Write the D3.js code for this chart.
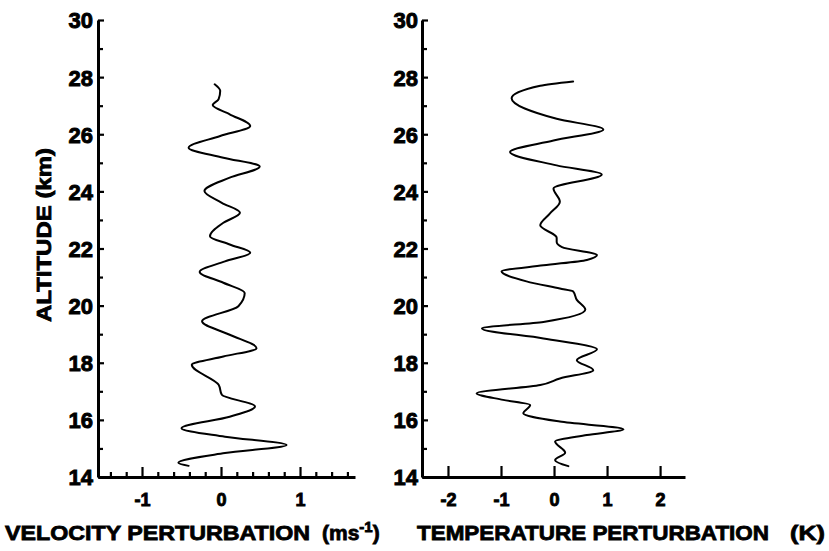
<!DOCTYPE html>
<html><head><meta charset="utf-8">
<script src="https://cdn.jsdelivr.net/npm/d3@7"></script>
<style>
body{margin:0;background:#fff;}
svg{display:block;}
text{font-family:"Liberation Sans",Arial,sans-serif;font-weight:bold;fill:#000;}
</style></head>
<body><svg id="c" width="829" height="551"></svg>
<script>
// Velocity perturbation profile (m/s) vs altitude (km)
const velAlt = [14.39,14.50,14.84,15.12,15.41,15.71,16.11,16.47,16.88,17.23,17.93,18.22,18.51,18.98,19.45,19.98,20.44,20.80,21.18,21.55,21.85,22.14,22.43,22.90,23.25,23.60,24.01,24.48,24.87,25.18,25.53,25.94,26.29,26.70,27.02,27.23,27.52,27.75];
const velVal = [-0.41,-0.54,0.05,0.83,0.05,-0.50,0.11,0.43,0.01,-0.03,-0.37,0.03,0.45,0.11,-0.24,0.22,0.30,0.03,-0.27,0.05,0.37,0.11,-0.14,0.03,0.24,0.01,-0.21,0.11,0.49,0.03,-0.41,-0.01,0.37,0.11,-0.105,-0.03,-0.01,-0.08];
// Temperature perturbation profile (K) vs altitude (km)
const tmpAlt = [14.38,14.59,14.85,15.24,15.47,15.67,15.94,16.23,16.52,16.70,16.93,17.22,17.45,17.74,18.09,18.47,18.85,19.20,19.43,19.86,20.20,20.50,20.60,20.85,21.20,21.41,21.60,21.77,22.05,22.23,22.38,22.81,23.22,23.64,24.10,24.59,24.91,25.38,25.78,26.17,26.54,27.26,27.70,27.85];
const tmpVal = [0.27,0.02,0.21,0.02,0.62,1.31,0.11,-0.58,-0.45,-0.96,-1.46,-0.26,0.11,0.74,0.43,0.81,-0.20,-1.36,-0.20,0.59,0.43,0.36,0.11,-0.52,-0.99,-0.20,0.62,0.81,0.15,0.05,0.05,-0.26,-0.08,0.11,-0.01,0.90,0.05,-0.83,-0.01,0.93,0.05,-0.80,-0.26,0.36];
// Tick values / labels
const altMajor = [14,16,18,20,22,24,26,28,30];
const altMinor = [15,17,19,21,23,25,27,29];
const velMajor = [-1,0,1];
const velMinor = [-1.4,-1.2,-0.8,-0.6,-0.4,-0.2,0.2,0.4,0.6,0.8,1.2,1.4,1.6];
const tmpMajor = [-2,-1,0,1,2];
const velTitle = "VELOCITY PERTURBATION";
const velUnit = "(ms";
const tmpTitle = "TEMPERATURE PERTURBATION";
const tmpUnit = "(K)";
const yTitle = "ALTITUDE  (km)";

const svg = d3.select("#c");
const y = d3.scaleLinear().domain([14,30]).range([477,20]);
const xL = d3.scaleLinear().domain([-1.557,1.696]).range([98,355]);
const xR = d3.scaleLinear().domain([-2.49,2.47]).range([422,685]);

function styleAxis(g, fs){
  g.selectAll("path.domain").attr("stroke","#000").attr("stroke-width",3);
  g.selectAll(".tick line").attr("stroke","#000").attr("stroke-width",2.2);
  g.selectAll(".tick text").style("font-size",fs+"px").style("font-family","'Liberation Sans',Arial,sans-serif")
    .style("font-weight","bold").attr("stroke","#000").attr("stroke-width",0.9).attr("fill","#000");
}

function panel(x, ax, majorX, minorX, alt, val, yPad, majLen){
  // y axis
  const gy = svg.append("g").attr("transform",`translate(${ax},0)`)
    .call(d3.axisLeft(y).tickValues(altMajor).tickSizeInner(-6).tickSizeOuter(0).tickPadding(yPad).tickFormat(d3.format("d")));
  styleAxis(gy, 22);
  gy.selectAll(".tick text").attr("dy","0.36em");
  const gy2 = svg.append("g").attr("transform",`translate(${ax},0)`)
    .call(d3.axisLeft(y).tickValues(altMinor).tickSizeInner(-5).tickSizeOuter(0).tickFormat(""));
  gy2.select("path.domain").remove();
  styleAxis(gy2, 22);
  // x axis
  const gx = svg.append("g").attr("transform",`translate(0,${y(14)})`)
    .call(d3.axisBottom(x).tickValues(majorX).tickSizeInner(-majLen).tickSizeOuter(0).tickPadding(16).tickFormat(d3.format("d")));
  styleAxis(gx, 18);
  gx.selectAll(".tick text").text(d=>d<0?"-"+Math.abs(d):d);
  if(minorX.length){
    const gx2 = svg.append("g").attr("transform",`translate(0,${y(14)})`)
      .call(d3.axisBottom(x).tickValues(minorX).tickSizeInner(-5).tickSizeOuter(0).tickFormat(""));
    gx2.select("path.domain").remove();
    styleAxis(gx2, 18);
  }
  // curve
  const pts = alt.map((a,i)=>[x(val[i]), y(a)]);
  svg.append("path").datum(pts)
    .attr("fill","none").attr("stroke","#000").attr("stroke-width",2)
    .attr("stroke-linejoin","round").attr("stroke-linecap","round")
    .attr("d", d3.line().curve(d3.curveMonotoneY)(pts));
}

panel(xL, 98, velMajor, velMinor, velAlt, velVal, 5, 10);
panel(xR, 422, tmpMajor, [], tmpAlt, tmpVal, 4, 11);

// Titles
function heavy(t){ return t.attr("stroke","#000").attr("stroke-width",0.8); }
heavy(svg.append("text").attr("x",5).attr("y",540).style("font-size","21px")
  .attr("textLength",305).attr("lengthAdjust","spacingAndGlyphs").text(velTitle));
const u = heavy(svg.append("text").attr("x",322).attr("y",540).style("font-size","21px"));
u.append("tspan").text(velUnit);
u.append("tspan").attr("dy",-8).style("font-size","15px").text("-1");
u.append("tspan").attr("dy",8).text(")");
heavy(svg.append("text").attr("x",417).attr("y",540).style("font-size","21px")
  .attr("textLength",352).attr("lengthAdjust","spacingAndGlyphs").text(tmpTitle));
heavy(svg.append("text").attr("x",790).attr("y",540).style("font-size","21px")
  .attr("textLength",35).attr("lengthAdjust","spacingAndGlyphs").text(tmpUnit));
heavy(svg.append("text").attr("transform","translate(51,235) rotate(-90)")
  .attr("text-anchor","middle").style("font-size","20px")
  .attr("textLength",174).attr("lengthAdjust","spacingAndGlyphs").text(yTitle));
</script></body></html>
